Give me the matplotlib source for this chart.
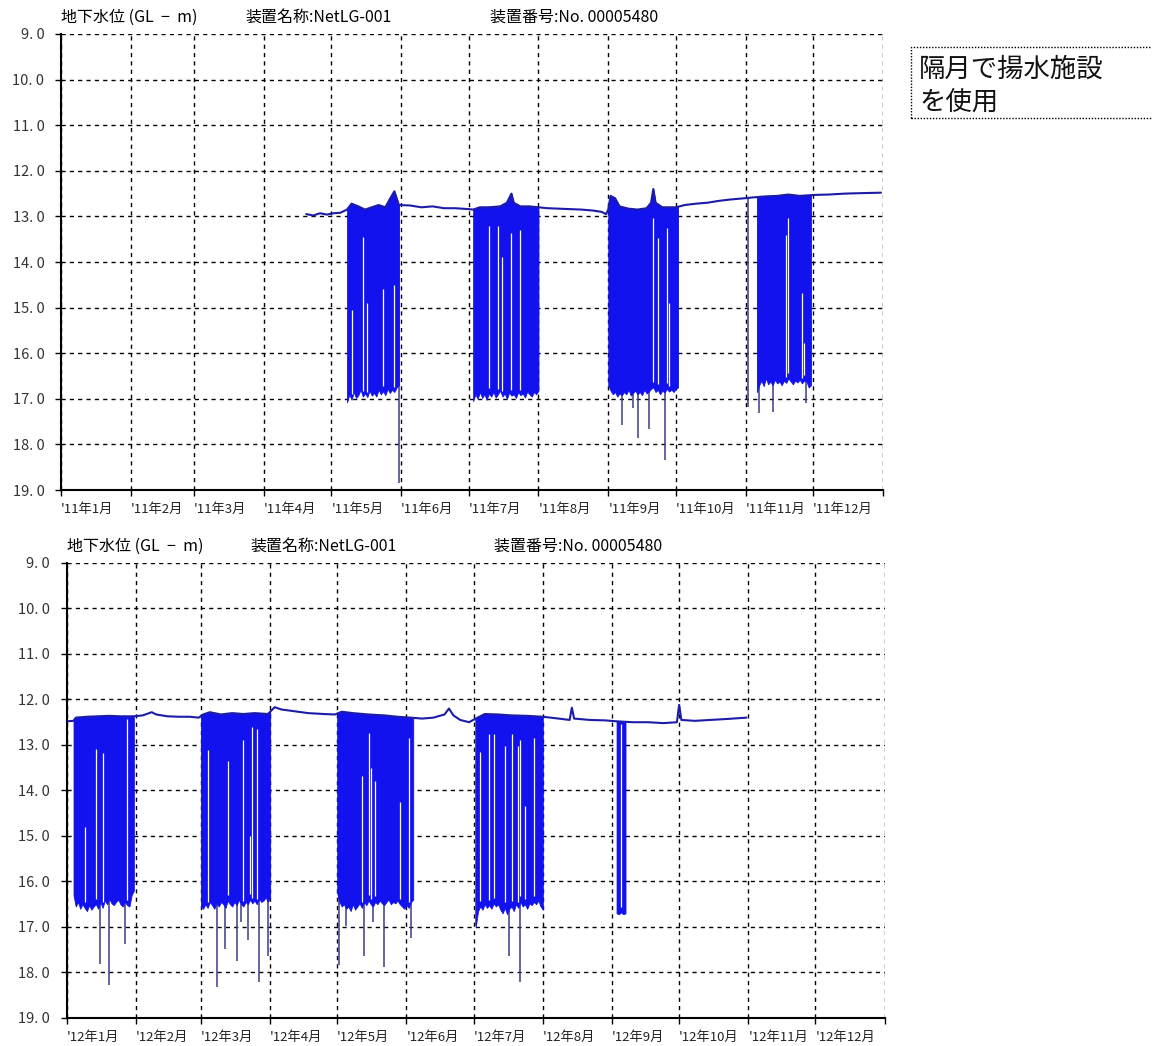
# 地下水位の推移（2011年・2012年）
import numpy as np
import pandas as pd
import matplotlib.pyplot as plt
import matplotlib.dates as mdates
from matplotlib.patches import Rectangle

plt.rcParams['font.family'] = ['Noto Sans CJK JP', 'DejaVu Sans']

# ---- 2011年 ----
level_2011_dates = ["2011-04-20", "2011-04-23", "2011-04-26", "2011-04-29", "2011-05-02",
                    "2011-05-05", "2011-05-08", "2011-05-10", "2011-05-13", "2011-05-16",
                    "2011-05-19", "2011-05-22", "2011-05-25", "2011-05-27", "2011-05-29",
                    "2011-05-30", "2011-05-31", "2011-06-05", "2011-06-10", "2011-06-15",
                    "2011-06-20", "2011-06-25", "2011-07-01", "2011-07-03", "2011-07-06",
                    "2011-07-10", "2011-07-15", "2011-07-18", "2011-07-20", "2011-07-21",
                    "2011-07-24", "2011-07-28", "2011-08-01", "2011-08-05", "2011-08-10",
                    "2011-08-15", "2011-08-20", "2011-08-25", "2011-08-29", "2011-08-31",
                    "2011-09-01", "2011-09-02", "2011-09-04", "2011-09-06", "2011-09-10",
                    "2011-09-14", "2011-09-18", "2011-09-20", "2011-09-21", "2011-09-22",
                    "2011-09-25", "2011-10-01", "2011-10-05", "2011-10-10", "2011-10-15",
                    "2011-10-20", "2011-10-25", "2011-11-01", "2011-11-05", "2011-11-10",
                    "2011-11-15", "2011-11-20", "2011-11-25", "2011-12-01", "2011-12-08",
                    "2011-12-15", "2011-12-22", "2011-12-31"]
level_2011 = [12.95, 12.98, 12.93, 12.96, 12.93,
              12.92, 12.85, 12.72, 12.78, 12.85,
              12.80, 12.75, 12.80, 12.62, 12.45,
              12.60, 12.75, 12.76, 12.80, 12.78,
              12.82, 12.82, 12.84, 12.85, 12.80,
              12.80, 12.78, 12.70, 12.50, 12.70,
              12.78, 12.78, 12.80, 12.82, 12.83,
              12.84, 12.85, 12.87, 12.90, 12.95,
              12.85, 12.55, 12.60, 12.78, 12.83,
              12.85, 12.82, 12.70, 12.40, 12.70,
              12.80, 12.80, 12.75, 12.72, 12.70,
              12.66, 12.63, 12.60, 12.58, 12.56,
              12.55, 12.52, 12.55, 12.53, 12.52,
              12.50, 12.49, 12.48]

# 揚水期間（開始・終了）と期間中の日ごとの最低水位
pump_2011_start = ["2011-05-08", "2011-07-03", "2011-09-01", "2011-11-06"]
pump_2011_end = ["2011-05-31", "2011-08-01", "2011-10-02", "2011-11-30"]
bottom_2011_may = [17.08, 16.90, 17.02, 16.85, 16.98, 16.92, 16.80, 16.95, 16.88, 16.96,
                   16.82, 16.93, 16.87, 16.95, 16.80, 16.90, 16.83, 16.92, 16.78, 16.87,
                   16.80, 16.85, 16.75, 16.70]
bottom_2011_jul = [17.05, 16.90, 17.00, 16.85, 16.98, 16.90, 17.02, 16.88, 16.95, 16.85,
                   16.97, 16.90, 16.82, 16.95, 16.88, 17.00, 16.86, 16.93, 16.90, 16.98,
                   16.85, 16.92, 16.88, 16.97, 16.84, 16.90, 16.95, 16.85, 16.90, 16.82]
bottom_2011_sep = [16.70, 16.82, 16.90, 16.85, 16.95, 16.88, 16.92, 16.85, 16.90, 16.80,
                   16.93, 16.87, 16.82, 16.90, 16.85, 16.92, 16.80, 16.88, 16.84, 16.78,
                   16.75, 16.85, 16.80, 16.90, 16.82, 16.86, 16.78, 16.84, 16.80, 16.85,
                   16.78, 16.75]
bottom_2011_nov = [16.85, 16.70, 16.60, 16.72, 16.55, 16.68, 16.62, 16.70, 16.58, 16.66,
                   16.62, 16.70, 16.60, 16.65, 16.55, 16.62, 16.68, 16.60, 16.64, 16.58,
                   16.66, 16.60, 16.62, 16.75, 16.70]

gap_2011_dates = ["2011-05-10", "2011-05-15", "2011-05-17", "2011-05-24", "2011-05-29",
                  "2011-07-10", "2011-07-14", "2011-07-16", "2011-07-20", "2011-07-24",
                  "2011-09-21", "2011-09-23", "2011-09-27", "2011-09-28",
                  "2011-11-19", "2011-11-20", "2011-11-26", "2011-11-27"]
gap_2011_top = [15.05, 13.45, 14.90, 14.60, 14.50,
                13.20, 13.20, 13.90, 13.37, 13.30,
                13.03, 13.47, 13.25, 14.90,
                13.40, 13.03, 14.68, 15.77]

spike_2011_dates = ["2011-05-31", "2011-09-07", "2011-09-12", "2011-09-14", "2011-09-19",
                    "2011-09-26", "2011-11-02", "2011-11-07", "2011-11-13", "2011-11-28"]
spike_2011_depth = [18.85, 17.57, 17.20, 17.86, 17.66,
                    18.34, 17.18, 17.30, 17.28, 17.09]

month_labels_2011 = ["'11年1月", "'11年2月", "'11年3月", "'11年4月", "'11年5月", "'11年6月",
                     "'11年7月", "'11年8月", "'11年9月", "'11年10月", "'11年11月", "'11年12月"]

# ---- 2012年 ----
level_2012_dates = ["2012-01-01", "2012-01-04", "2012-01-05", "2012-01-10", "2012-01-15",
                    "2012-01-20", "2012-01-25", "2012-01-31", "2012-02-04", "2012-02-08",
                    "2012-02-10", "2012-02-15", "2012-02-20", "2012-02-25", "2012-02-29",
                    "2012-03-02", "2012-03-05", "2012-03-10", "2012-03-15", "2012-03-20",
                    "2012-03-25", "2012-03-31", "2012-04-03", "2012-04-06", "2012-04-12",
                    "2012-04-18", "2012-04-25", "2012-04-30", "2012-05-03", "2012-05-08",
                    "2012-05-15", "2012-05-22", "2012-05-28", "2012-06-03", "2012-06-08",
                    "2012-06-13", "2012-06-18", "2012-06-20", "2012-06-22", "2012-06-25",
                    "2012-06-29", "2012-07-02", "2012-07-06", "2012-07-12", "2012-07-18",
                    "2012-07-25", "2012-08-01", "2012-08-08", "2012-08-13", "2012-08-14",
                    "2012-08-15", "2012-08-22", "2012-08-29", "2012-09-03", "2012-09-10",
                    "2012-09-17", "2012-09-24", "2012-09-30", "2012-10-01", "2012-10-02",
                    "2012-10-08", "2012-10-15", "2012-10-22", "2012-10-31"]
level_2012 = [12.48, 12.47, 12.40, 12.38, 12.37,
              12.36, 12.37, 12.37, 12.35, 12.28,
              12.33, 12.37, 12.38, 12.38, 12.40,
              12.33, 12.28, 12.33, 12.30, 12.32,
              12.30, 12.32, 12.17, 12.22, 12.26,
              12.30, 12.32, 12.33, 12.27, 12.30,
              12.33, 12.35, 12.38, 12.40, 12.42,
              12.40, 12.33, 12.20, 12.35, 12.45,
              12.50, 12.42, 12.32, 12.33, 12.35,
              12.36, 12.38, 12.42, 12.45, 12.18,
              12.42, 12.45, 12.46, 12.48, 12.50,
              12.50, 12.52, 12.50, 12.12, 12.45,
              12.47, 12.45, 12.43, 12.40]

pump_2012_start = ["2012-01-04", "2012-03-01", "2012-05-01", "2012-07-02", "2012-09-03"]
pump_2012_end = ["2012-01-31", "2012-04-01", "2012-06-04", "2012-08-01", "2012-09-07"]
bottom_2012_jan = [16.30, 16.55, 16.45, 16.60, 16.50, 16.58, 16.65, 16.52, 16.62, 16.55,
                   16.50, 16.60, 16.45, 16.58, 16.42, 16.50, 16.38, 16.48, 16.52, 16.45,
                   16.40, 16.50, 16.55, 16.45, 16.52, 16.55, 16.30, 16.20]
bottom_2012_mar = [16.55, 16.60, 16.50, 16.58, 16.45, 16.52, 16.60, 16.48, 16.55, 16.45,
                   16.50, 16.58, 16.42, 16.50, 16.55, 16.45, 16.52, 16.40, 16.50, 16.55,
                   16.45, 16.50, 16.40, 16.48, 16.42, 16.50, 16.38, 16.45, 16.42, 16.35,
                   16.45, 16.35]
bottom_2012_may = [16.25, 16.45, 16.55, 16.50, 16.60, 16.55, 16.65, 16.50, 16.62, 16.55,
                   16.48, 16.58, 16.45, 16.52, 16.42, 16.50, 16.55, 16.45, 16.50, 16.42,
                   16.48, 16.52, 16.45, 16.40, 16.50, 16.45, 16.48, 16.42, 16.50, 16.55,
                   16.60, 16.52, 16.58, 16.45, 16.40]
bottom_2012_jul = [17.00, 16.65, 16.55, 16.62, 16.50, 16.58, 16.52, 16.60, 16.48, 16.55,
                   16.50, 16.62, 16.70, 16.58, 16.72, 16.60, 16.55, 16.65, 16.50, 16.58,
                   16.45, 16.55, 16.50, 16.60, 16.48, 16.52, 16.45, 16.50, 16.42, 16.55,
                   16.62]
bottom_2012_sep = [16.70, 16.72, 16.68, 16.72, 16.70]

gap_2012_dates = ["2012-01-09", "2012-01-14", "2012-01-17", "2012-01-28",
                  "2012-03-04", "2012-03-13", "2012-03-20", "2012-03-23", "2012-03-24", "2012-03-26",
                  "2012-05-12", "2012-05-15", "2012-05-16", "2012-05-18", "2012-05-29", "2012-06-02",
                  "2012-07-04", "2012-07-08", "2012-07-10", "2012-07-15", "2012-07-18",
                  "2012-07-21", "2012-07-22", "2012-07-24", "2012-07-28",
                  "2012-09-05"]
gap_2012_top = [14.80, 13.08, 13.17, 12.44,
                13.10, 13.36, 12.88, 15.00, 12.60, 12.66,
                13.69, 12.73, 13.50, 13.80, 14.26, 12.84,
                13.15, 12.75, 12.77, 13.03, 12.77,
                13.03, 12.90, 14.35, 12.84,
                12.55]

spike_2012_dates = ["2012-01-16", "2012-01-20", "2012-01-27",
                    "2012-03-08", "2012-03-12", "2012-03-17", "2012-03-19", "2012-03-22",
                    "2012-03-27", "2012-03-31",
                    "2012-05-02", "2012-05-05", "2012-05-13", "2012-05-17", "2012-05-22",
                    "2012-06-03",
                    "2012-07-02", "2012-07-17", "2012-07-22"]
spike_2012_depth = [17.82, 18.28, 17.38,
                    18.32, 17.48, 17.75, 16.90, 17.29,
                    18.20, 17.64,
                    17.84, 16.98, 17.64, 16.90, 17.88,
                    17.25,
                    16.98, 17.64, 18.22]

month_labels_2012 = ["'12年1月", "'12年2月", "'12年3月", "'12年4月", "'12年5月", "'12年6月",
                     "'12年7月", "'12年8月", "'12年9月", "'12年10月", "'12年11月", "'12年12月"]

y_ticks = [9, 10, 11, 12, 13, 14, 15, 16, 17, 18, 19]

FILL = '#1212ee'
LINE = '#1c1ca8'
SPIKE = '#3a3a88'


def to_num(dates):
    return mdates.date2num(pd.to_datetime(dates))


def draw_panel(ax, year, lv_d, lv, p_start, p_end, bottoms, g_d, g_top, s_d, s_v, labels):
    lv_x = to_num(lv_d)

    # 深い落ち込み
    s_x = to_num(s_d)
    ax.vlines(s_x, np.interp(s_x, lv_x, lv), s_v, color=SPIKE, lw=1.1, zorder=2)

    # 揚水期間の水位変動幅（日ごとの最低水位まで塗る）
    b_x_all, b_all = [], []
    for st, en, b in zip(p_start, p_end, bottoms):
        xs = to_num(pd.date_range(st, en, periods=len(b)))
        ax.fill_between(xs, np.interp(xs, lv_x, lv), b, color=FILL, lw=0.6,
                        edgecolor=FILL, zorder=3)
        b_x_all.extend(xs)
        b_all.extend(b)

    # 変動の途切れ
    g_x = to_num(g_d)
    ax.vlines(g_x, g_top, np.interp(g_x, b_x_all, b_all) - 0.12, color='white', lw=0.9, zorder=4)

    # 水位
    ax.plot(lv_x, lv, color=LINE, lw=1.5, zorder=5)

    months = to_num(pd.date_range(f"{year}-01-01", f"{year + 1}-01-01", freq='MS'))
    ax.set_xlim(months[0], months[-1])
    ax.set_ylim(19, 9)
    ax.set_xticks(months)
    ax.set_xticklabels(labels + [""], ha='left', fontsize=9.5, color='#222222')
    ax.set_yticks(y_ticks)
    ax.set_yticklabels([f"{v:.1f}".replace('.', '. ') for v in y_ticks],
                       fontsize=10.5, color='#333333')
    ax.tick_params(axis='both', direction='out', length=4, width=1, color='black')
    ax.tick_params(axis='x', pad=5)
    ax.tick_params(axis='y', pad=8)
    ax.grid(True, color='black', linestyle=(0, (3, 3)), lw=1.0)
    for s in ('top', 'right'):
        ax.spines[s].set_visible(False)
    for s in ('left', 'bottom'):
        ax.spines[s].set_linewidth(1.5)
    ax.set_axisbelow(True)

    y_title = 1.036
    ax.text(0.0, y_title, "地下水位 (GL  −  m)", transform=ax.transAxes, fontsize=11.5, va='center')
    ax.text(0.224, y_title, "装置名称:NetLG-001", transform=ax.transAxes, fontsize=11.5, va='center')
    ax.text(0.522, y_title, "装置番号:No. 00005480", transform=ax.transAxes, fontsize=11.5, va='center')


fig = plt.figure(figsize=(11.52, 10.46), dpi=100)
ax1 = fig.add_axes([0.053, 0.5315, 0.7135, 0.436])
ax2 = fig.add_axes([0.058, 0.0268, 0.710, 0.435])

draw_panel(ax1, 2011, level_2011_dates, level_2011, pump_2011_start, pump_2011_end,
           [bottom_2011_may, bottom_2011_jul, bottom_2011_sep, bottom_2011_nov],
           gap_2011_dates, gap_2011_top, spike_2011_dates, spike_2011_depth, month_labels_2011)
draw_panel(ax2, 2012, level_2012_dates, level_2012, pump_2012_start, pump_2012_end,
           [bottom_2012_jan, bottom_2012_mar, bottom_2012_may, bottom_2012_jul, bottom_2012_sep],
           gap_2012_dates, gap_2012_top, spike_2012_dates, spike_2012_depth, month_labels_2012)

# 注記
fig.patches.append(Rectangle((0.791, 0.887), 0.25, 0.068, transform=fig.transFigure,
                             fill=False, edgecolor='black', linestyle=(0, (1, 1.2)), lw=1.0))
fig.text(0.798, 0.934, "隔月で揚水施設", fontsize=19, va='center', color='#111111')
fig.text(0.798, 0.902, "を使用", fontsize=19, va='center', color='#111111')

plt.savefig('out.png', dpi=100)
